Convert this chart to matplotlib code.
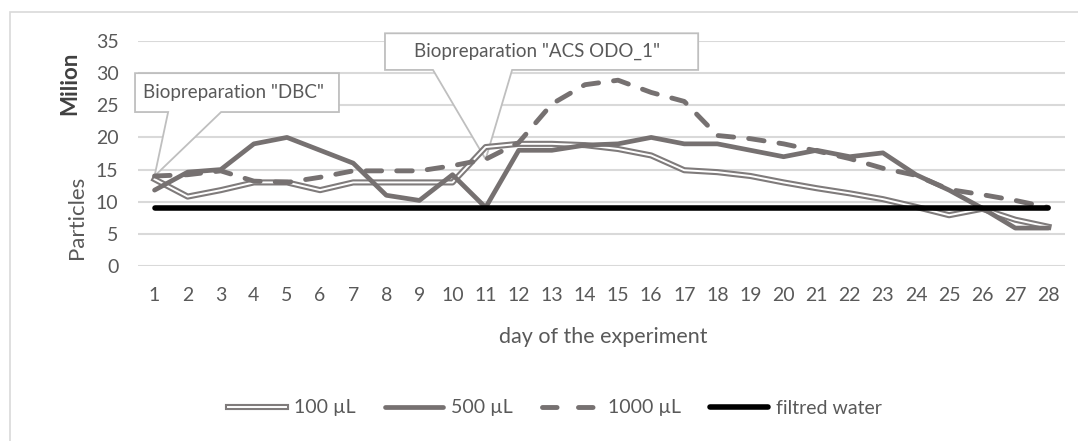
import matplotlib
matplotlib.use("Agg")
import matplotlib.pyplot as plt
import matplotlib.patheffects as pe
from matplotlib.lines import Line2D
from matplotlib.patches import Polygon, Rectangle

days = list(range(1, 29))
ul_100 = [13.5, 10.8, 11.8, 13.0, 13.0, 11.8, 13.0, 13.0, 13.0, 13.0, 18.5, 19.0, 19.0, 18.8,
          18.2, 17.2, 14.9, 14.6, 14.0, 13.0, 12.1, 11.3, 10.4, 9.2, 7.9, 8.9, 7.2, 6.1]
ul_500 = [11.8, 14.6, 15.0, 19.0, 20.0, 18.0, 16.0, 11.0, 10.2, 14.2, 9.1, 18.0, 18.0, 18.8,
          19.0, 20.0, 19.0, 19.0, 18.0, 17.0, 18.0, 17.0, 17.6, 14.2, 11.8, 9.0, 5.9, 5.9]
ul_1000 = [14.0, 14.2, 14.8, 13.2, 13.0, 13.8, 14.8, 14.8, 14.8, 15.6, 16.6, 19.2, 25.2, 28.2,
           28.9, 27.0, 25.6, 20.3, 19.8, 19.0, 17.9, 16.7, 15.2, 14.1, 11.9, 11.1, 10.2, 9.1]
filtred_water = [9.0] * 28

series_labels = ["100 µL", "500 µL", "1000 µL", "filtred water"]
y_ticks = [0, 5, 10, 15, 20, 25, 30, 35]

W, H = 1078, 441
GRAY = "#767171"
OUTLINE = "#7f7b7b"
TEXT = "#595959"
plt.rcParams["font.family"] = ["Lato", "DejaVu Sans"]

fig = plt.figure(figsize=(W / 100, H / 100), dpi=100)
fig.patches.append(Rectangle((10 / W, -0.1), 1.2, 1.1 - 12 / H, transform=fig.transFigure,
                             fill=False, edgecolor="#d9d9d9", linewidth=1.2))

ax = fig.add_axes([138 / W, 1 - 266 / H, (1065 - 138) / W, (266 - 41) / H])
ax.set_xlim(0.5, 28.5)
ax.set_ylim(0, 35)
ax.set_yticks(y_ticks)
ax.set_xticks(days)
for s in ax.spines.values():
    s.set_visible(False)
ax.tick_params(length=0, labelsize=14, labelcolor=TEXT)
ax.tick_params(axis="y", pad=14)
ax.tick_params(axis="x", pad=15)
ax.grid(axis="y", color="#d9d9d9", linewidth=1.5, zorder=0)
ax.set_axisbelow(True)

# callouts pointing at the 1000 µL points on days 1 and 11
def callout(x0, x1, y0, y1, wx0, wx1, tip_day, text, tx):
    tip = (tip_day, ul_1000[tip_day - 1])
    pts = [(x0, y0), (x0, y1), (x1, y1), (x1, y0), (wx1, y0), tip, (wx0, y0)]
    ax.add_patch(Polygon(pts, closed=True, facecolor="white", edgecolor="#bfbfbf",
                         linewidth=1.3, zorder=1, clip_on=False, joinstyle="miter"))
    ax.text(tx, (y0 + y1) / 2, text, fontsize=13.5, color=TEXT, va="center", ha="left",
            zorder=6, clip_on=False)

callout(0.41, 6.57, 23.95, 30.0, 1.41, 3.01, 1, 'Biopreparation "DBC"', 0.65)
callout(7.96, 17.42, 30.5, 36.2, 9.41, 11.80, 11, 'Biopreparation "ACS ODO_1"', 8.85)

double = [pe.Stroke(linewidth=4.4, foreground=OUTLINE), pe.Normal()]
ax.plot(days, ul_100, color="white", linewidth=1.4, zorder=3, solid_joinstyle="round",
        path_effects=double)
ax.plot(days, ul_500, color=GRAY, linewidth=3.4, zorder=4, solid_joinstyle="round",
        solid_capstyle="round")
ax.plot(days, ul_1000, color=GRAY, linewidth=3.5, zorder=4, dashes=(3.2, 3.1),
        dash_capstyle="round")
ax.plot(days, filtred_water, color="black", linewidth=4.0, zorder=5, solid_capstyle="round")

handles = [
    Line2D([], [], color="white", linewidth=1.4, path_effects=double),
    Line2D([], [], color=GRAY, linewidth=3.4, solid_capstyle="round"),
    Line2D([], [], color=GRAY, linewidth=3.5, dashes=(3.0, 4.4), dash_capstyle="round"),
    Line2D([], [], color="black", linewidth=4.0, solid_capstyle="round"),
]
fig.legend(handles, series_labels, loc="center", bbox_to_anchor=(555 / W, 1 - 408 / H),
           ncol=4, frameon=False, fontsize=14, labelcolor=TEXT, handlelength=3.0,
           handletextpad=0.4, columnspacing=1.5)

fig.text(603 / W, 1 - 337 / H, "day of the experiment", fontsize=15.5, color=TEXT,
         ha="center", va="center")
fig.text(70 / W, 1 - 83 / H, "Milion", fontsize=16, color="#404040", rotation=90,
         ha="center", va="center", fontweight="bold")
fig.text(77 / W, 1 - 217 / H, "Particles", fontsize=16, color=TEXT, rotation=90,
         ha="center", va="center")

fig.savefig("out.png", dpi=100)
